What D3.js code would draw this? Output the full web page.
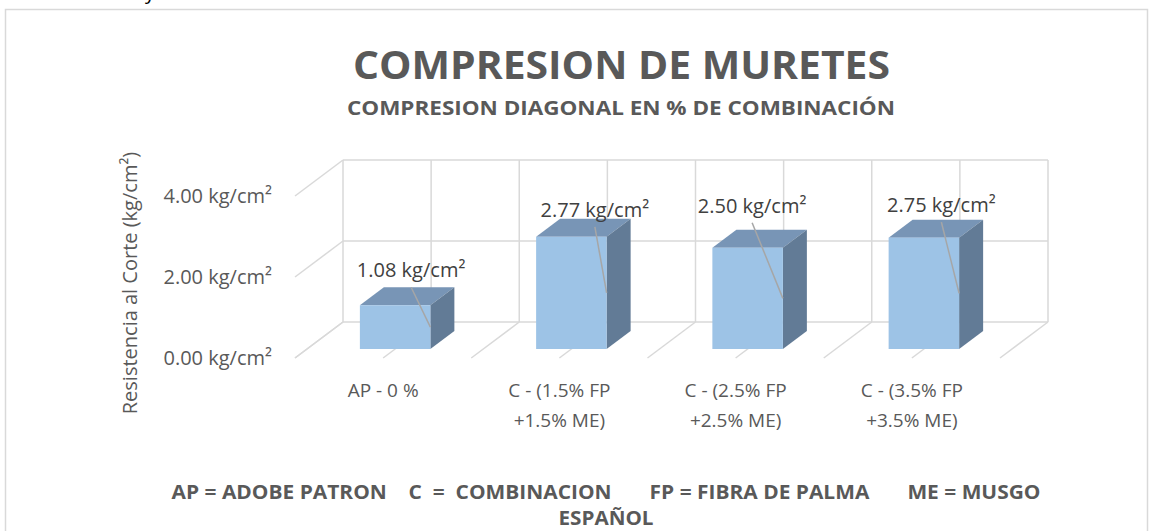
<!DOCTYPE html>
<html>
<head>
<meta charset="utf-8">
<script src="https://cdn.jsdelivr.net/npm/d3@7"></script>
<style>
  html, body { margin: 0; padding: 0; background: #ffffff; }
  svg { display: block; }
  text { font-family: "Open Sans", "Noto Sans", sans-serif; }
</style>
</head>
<body>
<svg id="chart" width="1150" height="531"></svg>
<script>
// ---- data ----
const categories = [
  ["AP - 0 %"],
  ["C - (1.5% FP", "+1.5% ME)"],
  ["C - (2.5% FP", "+2.5% ME)"],
  ["C - (3.5% FP", "+3.5% ME)"]
];
const values = [1.08, 2.77, 2.50, 2.75];
const yTicks = [0, 2, 4];
const unit = " kg/cm²";
const chartTitle = "COMPRESION DE MURETES";
const chartSubtitle = "COMPRESION DIAGONAL EN % DE COMBINACIÓN";
const yTitle = "Resistencia al Corte (kg/cm²)";
const footnoteLines = [
  "AP = ADOBE PATRON    C  =  COMBINACION       FP = FIBRA DE PALMA       ME = MUSGO",
  "ESPAÑOL"
];

// ---- layout ----
const W = 1150, H = 531;
const front = { left: 295, right: 1000, bottom: 358, top: 196 };
const depth = { dx: 48, dy: 36 };          // oblique offset of the back wall
const barDepth = [0.25, 0.75];             // bar occupies the middle of the floor depth
// label nudges relative to the bar's front-top centre [dx, dy]
const labelNudge = [[16, -28], [23.5, -20], [4.5, -35], [17.5, -25.5]];

const colors = {
  grid: "#d9d9d9",
  text: "#595959",
  label: "#404040",
  leader: "#a6a6a6",
  barFront: "#9dc3e6",
  barTop: "#7895b6",
  barSide: "#627b96"
};

const svg = d3.select("#chart");

// text from the surrounding page, just above the chart frame
svg.append("text").attr("x", 145).attr("y", -1)
  .attr("font-size", 20).attr("fill", "#000").text("y");

// chart frame
svg.append("rect")
  .attr("x", 5.5).attr("y", 9.5).attr("width", 1142).attr("height", H)
  .attr("fill", "none").attr("stroke", colors.grid).attr("stroke-width", 1.5);

const idx = d3.range(categories.length);
const x = d3.scaleBand().domain(idx).range([front.left, front.right])
  .paddingInner(0.6).paddingOuter(0.3);
const slot = d3.scaleLinear().domain([0, categories.length]).range([front.left, front.right]);
const y = d3.scaleLinear().domain([0, 4]).range([front.bottom, front.top]);

// projection: screen position for x (front coords), value v and depth z (0 front, 1 back)
const P = (px, v, z) => [px + z * depth.dx, y(v) - z * depth.dy];

const grid = svg.append("g").attr("stroke", colors.grid).attr("stroke-width", 1.5).attr("fill", "none");
const line = d3.line();

// back wall horizontal gridlines
yTicks.forEach(t => {
  grid.append("path").attr("d", line([P(front.left, t, 1), P(front.right, t, 1)]));
  // side wall diagonals
  grid.append("path").attr("d", line([P(front.left, t, 0), P(front.left, t, 1)]));
});
// back wall verticals and floor diagonals, every half category
d3.range(0, categories.length + 0.01, 0.5).forEach(k => {
  const gx = slot(k);
  grid.append("path").attr("d", line([P(gx, 0, 1), P(gx, 4, 1)]));
  grid.append("path").attr("d", line([P(gx, 0, 0), P(gx, 0, 1)]));
});

// y-axis tick labels
svg.append("g").selectAll("text").data(yTicks).join("text")
  .attr("x", front.left - 23).attr("y", d => y(d))
  .attr("dy", "0.35em").attr("text-anchor", "end")
  .attr("font-size", 20).attr("fill", colors.text)
  .text(d => d3.format(".2f")(d) + unit);

// y-axis title
svg.append("text")
  .attr("transform", "translate(137,283) rotate(-90)")
  .attr("text-anchor", "middle").attr("font-size", 20).attr("fill", colors.text)
  .text(yTitle);

// bars
const bars = svg.append("g");
idx.forEach(i => {
  const x0 = x(i), x1 = x(i) + x.bandwidth(), v = values[i];
  const [z0, z1] = barDepth;
  const g = bars.append("g");
  // top face
  g.append("path").attr("fill", colors.barTop)
    .attr("d", line([P(x0, v, z0), P(x1, v, z0), P(x1, v, z1), P(x0, v, z1)]) + "Z");
  // right side face
  g.append("path").attr("fill", colors.barSide)
    .attr("d", line([P(x1, 0, z0), P(x1, v, z0), P(x1, v, z1), P(x1, 0, z1)]) + "Z");
  // front face
  const a = P(x0, v, z0), b = P(x1, 0, z0);
  g.append("rect").attr("fill", colors.barFront)
    .attr("x", a[0]).attr("y", a[1]).attr("width", b[0] - a[0]).attr("height", b[1] - a[1]);
});

// data labels with leader lines
const labels = svg.append("g");
idx.forEach(i => {
  const v = values[i];
  const top = P(x(i) + x.bandwidth() / 2, v, barDepth[0]);
  const lx = top[0] + labelNudge[i][0], ly = top[1] + labelNudge[i][1];
  const end = P(x(i) + x.bandwidth(), v / 2, barDepth[0]);
  labels.append("path").attr("d", line([[lx, ly + 10], end]))
    .attr("stroke", colors.leader).attr("stroke-width", 1.5);
  labels.append("text").attr("x", lx).attr("y", ly)
    .attr("text-anchor", "middle").attr("font-size", 20).attr("fill", colors.label)
    .text(d3.format(".2f")(v) + unit);
});

// category labels
const cat = svg.append("g");
idx.forEach(i => {
  const t = cat.append("text").attr("text-anchor", "middle")
    .attr("font-size", 19).attr("fill", colors.text);
  categories[i].forEach((s, j) => {
    t.append("tspan").attr("x", slot(i + 0.5)).attr("y", 397 + j * 30).text(s);
  });
});

// titles
svg.append("text").attr("x", 621.5).attr("y", 79)
  .attr("text-anchor", "middle").attr("font-size", 40).attr("font-weight", 700)
  .attr("fill", colors.text).attr("textLength", 537).attr("lengthAdjust", "spacingAndGlyphs")
  .text(chartTitle);
svg.append("text").attr("x", 621).attr("y", 115)
  .attr("text-anchor", "middle").attr("font-size", 19.5).attr("font-weight", 700)
  .attr("fill", colors.text).attr("textLength", 548).attr("lengthAdjust", "spacingAndGlyphs")
  .text(chartSubtitle);

// footnote
const footWidths = [869, 95];
footnoteLines.forEach((s, j) => {
  svg.append("text").attr("x", 606).attr("y", 499 + j * 26)
    .attr("text-anchor", "middle").attr("font-size", 19.5).attr("font-weight", 700)
    .attr("fill", colors.text).style("white-space", "pre")
    .attr("textLength", footWidths[j]).attr("lengthAdjust", "spacingAndGlyphs")
    .text(s);
});
</script>
</body>
</html>
